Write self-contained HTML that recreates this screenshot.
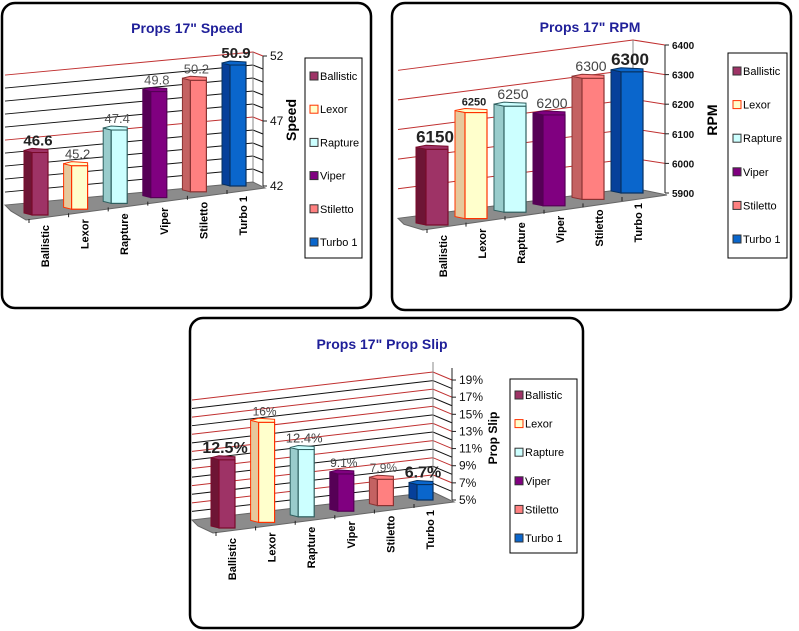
<!DOCTYPE html>
<html><head><meta charset="utf-8">
<style>
html,body{margin:0;padding:0;background:#fff;}
svg{display:block;font-family:"Liberation Sans",Arial,sans-serif;}
</style></head>
<body>
<svg id="root" width="799" height="631" viewBox="0 0 799 631" xmlns="http://www.w3.org/2000/svg">
<rect x="2" y="3" width="369" height="305" rx="13" fill="#fff" stroke="#000" stroke-width="2.5"/>
<rect x="392" y="3" width="399" height="307" rx="13" fill="#fff" stroke="#000" stroke-width="2.5"/>
<rect x="190" y="318" width="393" height="310" rx="13" fill="#fff" stroke="#000" stroke-width="2.5"/>
<g id="g1"></g>
<g id="g2"></g>
<g id="g3"></g>
</svg>
<script>
const categories = ["Ballistic","Lexor","Rapture","Viper","Stiletto","Turbo 1"];
const speedValues = [46.6,45.2,47.4,49.8,50.2,50.9];
const speedLabels = ["46.6","45.2","47.4","49.8","50.2","50.9"];
const speedTicks = [42,47,52];
const rpmValues = [6150,6250,6250,6200,6300,6300];
const rpmLabels = ["6150","6250","6250","6200","6300","6300"];
const rpmTicks = [5900,6000,6100,6200,6300,6400];
const slipValues = [12.5,16,12.4,9.1,7.9,6.7];
const slipLabels = ["12.5%","16%","12.4%","9.1%","7.9%","6.7%"];
const slipTicks = [5,7,9,11,13,15,17,19];

const colors = [
 {front:"#9e3366",side:"#6e1535",stroke:"#7a0a2a"},
 {front:"#ffffcc",side:"#e6c89c",stroke:"#ff3300"},
 {front:"#ccffff",side:"#99cccc",stroke:"#2f5f5f"},
 {front:"#800080",side:"#560056",stroke:"#550055"},
 {front:"#ff8080",side:"#c46262",stroke:"#8a3333"},
 {front:"#0a66cc",side:"#06409a",stroke:"#06305f"}
];
const NS="http://www.w3.org/2000/svg";
function mk(parent,tag,attrs){const e=document.createElementNS(NS,tag);for(const k in attrs)e.setAttribute(k,attrs[k]);parent.appendChild(e);return e;}

function draw(g,c){
  const yAxis=v=>c.ay0-(v-c.min)*c.kAxis;
  const backY=v=>yAxis(v)-c.dy;
  const leftY=v=>backY(v)+(c.xb-c.xl)*c.slope;
  let t=mk(g,"text",{x:c.tx,y:c.ty,"text-anchor":"middle","font-size":14,"font-weight":"bold",fill:"#1f1f99"});
  
  
  t.textContent=c.title;
  for(let v=c.min+c.gstep; v<=c.max+1e-9; v+=c.gstep){
    const red=c.redFn(v);
    const col=red?"#c03030":"#111";
    let l=mk(g,"polyline",{points:`${c.xl},${leftY(v)} ${c.xb},${backY(v)} ${c.ax},${yAxis(v)}`,fill:"none",stroke:col,"stroke-width":1});
    
    
  }
  mk(g,"line",{x1:c.xb,y1:backY(c.max)-c.cornerExtra,x2:c.xb,y2:backY(c.min),stroke:"#888","stroke-width":1});
  const bl=leftY(c.min);
  let f=mk(g,"polygon",{points:`${c.xl},${bl} ${c.xb},${backY(c.min)} ${c.ax+2},${yAxis(c.min)+2} ${c.c0-12},${c.b0+5} ${c.xl+6},${bl+6}`,fill:"#8c8c8c",stroke:"#666"});
  
  
  let ax=mk(g,"line",{x1:c.ax,y1:yAxis(c.max)-c.axisExtra,x2:c.ax,y2:yAxis(c.min),stroke:"#222","stroke-width":1});
  
  
  c.ticks.forEach((v,i)=>{
    mk(g,"line",{x1:c.ax,y1:yAxis(v),x2:c.ax+4,y2:yAxis(v),stroke:"#222"});
    let tl=mk(g,"text",{x:c.ax+7,y:yAxis(v)+4,"font-size":c.tickFs,"font-weight":c.tickW,fill:"#111"});
    
    
    tl.textContent=c.tickText(v);
  });
  let at=mk(g,"text",{x:0,y:0,"text-anchor":"middle","font-size":c.axFs,"font-weight":"bold",transform:`translate(${c.axLx},${c.axLy}) rotate(-90)`});
  
  
  at.textContent=c.axTitle;
  c.values.forEach((v,i)=>{
    const cx=c.c0+i*c.dc, by=c.b0+i*c.db, h=(v-c.min)*c.k, ty=by-h;
    const fl=cx-c.fw/2+4, fr=cx+c.fw/2, sl=fl-c.sw;
    const col=colors[i];
    const bg=mk(g,"g",{});
    
    
    mk(bg,"polygon",{points:`${sl},${ty-2} ${fl},${ty} ${fl},${by} ${sl},${by-2}`,fill:col.side,stroke:col.stroke,"stroke-width":1});
    mk(bg,"rect",{x:fl,y:ty,width:fr-fl,height:h,fill:col.front,stroke:col.stroke,"stroke-width":1.2});
    mk(bg,"polygon",{points:`${sl},${ty-2} ${sl+c.sw},${ty-4} ${fr},${ty-3} ${fr},${ty} ${fl},${ty}`,fill:col.front,stroke:col.stroke,"stroke-width":1});
    let vl=mk(g,"text",{x:cx,y:ty-7,"text-anchor":"middle","font-size":c.labFs[i],"font-weight":c.labW[i],fill:c.labCol[i]});
    
    
    vl.textContent=c.labels[i];
    let cl=mk(g,"text",{x:0,y:0,"text-anchor":"end","font-size":11,"font-weight":"bold",fill:"#000",transform:`translate(${cx+c.catDx},${by+10}) rotate(-90)`});
    
    
    cl.textContent=categories[i];
    mk(g,"line",{x1:cx+c.catDx-20,y1:by+4,x2:cx+c.catDx-20,y2:by+8,stroke:"#222"});
  });
  let lg=mk(g,"rect",{x:c.lx,y:c.ly,width:c.lw,height:c.lh,fill:"#fff",stroke:"#000","stroke-width":1});
  
  
  categories.forEach((name,i)=>{
    const y=c.le0+i*c.lstep;
    const eg=mk(g,"g",{});
    
    
    mk(eg,"rect",{x:c.lx+5,y:y-4,width:8,height:8,fill:colors[i].front,stroke:i==1?"#ff3300":"#333","stroke-width":1});
    const tx=mk(eg,"text",{x:c.lx+15,y:y+4,"font-size":11,fill:"#000"});
    tx.textContent=name;
  });
}

draw(document.getElementById("g1"),{
  title:"Props 17\" Speed",tx:187,ty:33,values:speedValues,labels:speedLabels,ticks:speedTicks,
  min:42,max:52,gstep:1,redFn:v=>Math.abs(v-52)<0.01||Math.abs(v-47)<0.01,
  ax:263,ay0:186,kAxis:13,xb:253,dy:4,xl:5,slope:0.093,cornerExtra:0,axisExtra:0,
  c0:38,dc:39.6,b0:215,db:-5.8,k:13.6,fw:20,sw:8,catDx:11,
  labFs:[15,13,13,13,13,15],labW:["bold","normal","normal","normal","normal","bold"],
  labCol:["#222","#444","#555","#555","#555","#222"],
  tickFs:12,tickW:"normal",tickText:v=>String(v),
  axTitle:"Speed",axFs:14,axLx:296,axLy:120,
  lx:305,ly:58,lw:57,lh:200,le0:76,lstep:33.2
});
draw(document.getElementById("g2"),{
  title:"Props 17\" RPM",tx:590,ty:32,values:rpmValues,labels:rpmLabels,ticks:rpmTicks,
  min:5900,max:6400,gstep:100,redFn:v=>true,
  ax:665,ay0:193,kAxis:0.296,xb:633,dy:5,xl:398,slope:0.129,cornerExtra:0,axisExtra:0,
  c0:435,dc:39,b0:225,db:-6.4,k:0.303,fw:26,sw:10,catDx:12,
  labFs:[17,11,14,14,14,17],labW:["bold","bold","normal","normal","normal","bold"],
  labCol:["#222","#222","#444","#444","#444","#222"],
  tickFs:10,tickW:"bold",tickText:v=>String(v),
  axTitle:"RPM",axFs:14,axLx:717,axLy:120,
  lx:728,ly:53,lw:59,lh:205,le0:71,lstep:33.6
});
draw(document.getElementById("g3"),{
  title:"Props 17\" Prop Slip",tx:382,ty:349,values:slipValues,labels:slipLabels,ticks:slipTicks,
  min:5,max:19,gstep:1,redFn:v=>Math.round(v)%2===1,
  ax:452,ay0:500,kAxis:8.57,xb:433,dy:8,xl:192,slope:0.116,cornerExtra:10,axisExtra:12,
  c0:225,dc:39.6,b0:528,db:-5.6,k:9.1,fw:20,sw:8,catDx:11,
  labFs:[16,12,13,12,12,16],labW:["bold","normal","normal","normal","normal","bold"],
  labCol:["#222","#444","#444","#444","#555","#222"],
  tickFs:12,tickW:"normal",tickText:v=>v+"%",
  axTitle:"Prop Slip",axFs:12,axLx:497,axLy:438,
  lx:510,ly:379,lw:67,lh:174,le0:395,lstep:28.6
});
</script>
</body></html>
